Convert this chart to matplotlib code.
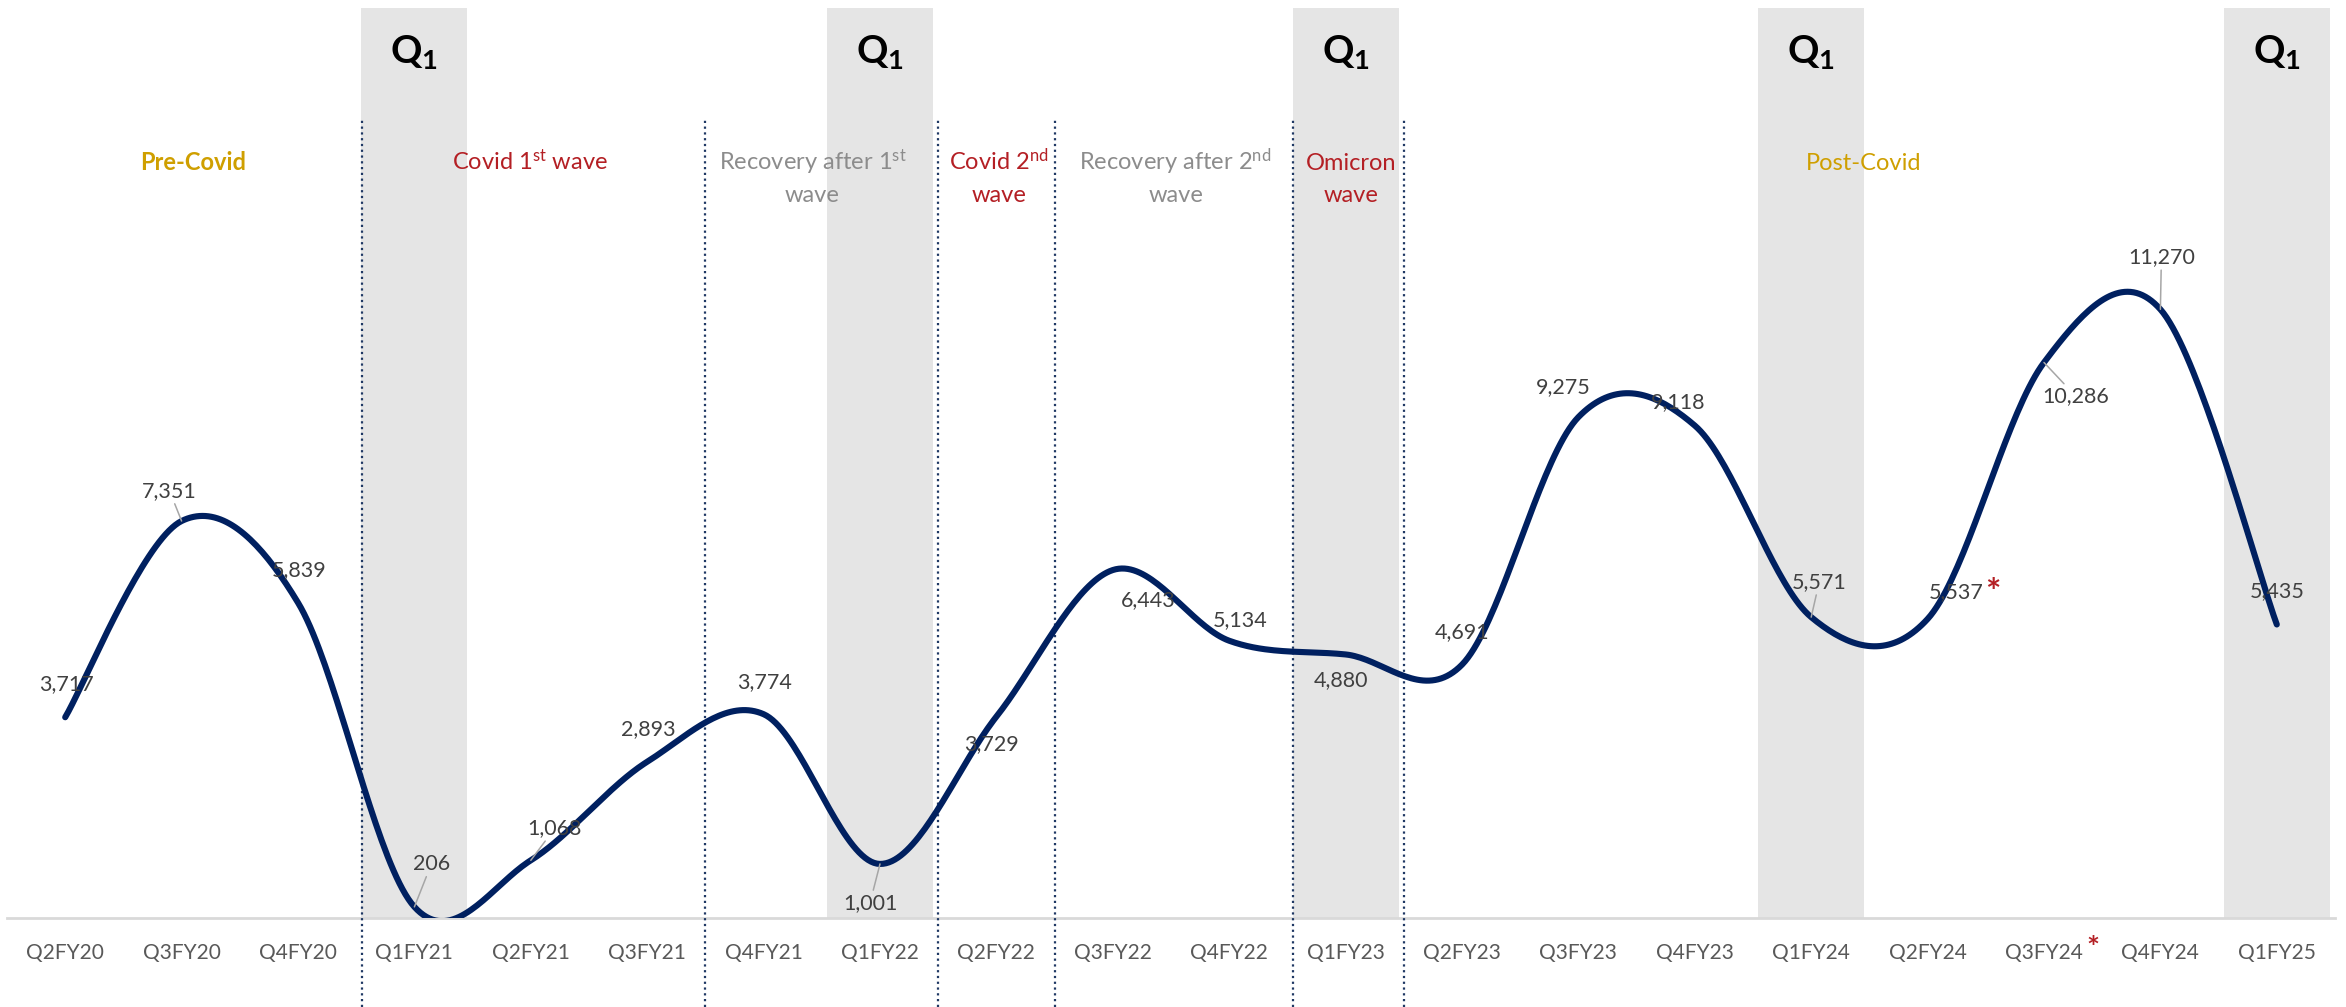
import numpy as np
import matplotlib
matplotlib.use('Agg')
import matplotlib.pyplot as plt
import matplotlib.transforms as mtrans

plt.rcParams.update({'font.family': ['Lato', 'DejaVu Sans'],
                     'mathtext.fontset': 'custom',
                     'mathtext.rm': 'Lato', 'mathtext.bf': 'Lato:bold',
                     'mathtext.it': 'Lato:italic'})

# ---- data ----
quarters = ['Q2FY20', 'Q3FY20', 'Q4FY20', 'Q1FY21', 'Q2FY21', 'Q3FY21', 'Q4FY21',
            'Q1FY22', 'Q2FY22', 'Q3FY22', 'Q4FY22', 'Q1FY23', 'Q2FY23', 'Q3FY23',
            'Q4FY23', 'Q1FY24', 'Q2FY24', 'Q3FY24', 'Q4FY24', 'Q1FY25']
values = [3717, 7351, 5839, 206, 1068, 2893, 3774, 1001, 3729, 6443,
          5134, 4880, 4691, 9275, 9118, 5571, 5537, 10286, 11270, 5435]
starred_tick = ['Q3FY24']      # asterisk on the category label
starred_value = ['Q2FY24']     # asterisk on the data label

phase_names = ['Pre-Covid', 'Covid 1$^{\\mathrm{st}}$ wave',
               'Recovery after 1$^{\\mathrm{st}}$\nwave', 'Covid 2$^{\\mathrm{nd}}$\nwave',
               'Recovery after 2$^{\\mathrm{nd}}$\nwave', 'Omicron\nwave', 'Post-Covid']
phase_kind = ['pre', 'wave', 'rec', 'wave', 'rec', 'wave', 'post']
phase_x = [1.10, 3.99, 6.42, 8.02, 9.54, 11.05, 15.45]
phase_breaks = [2.55, 5.5, 7.5, 8.5, 10.55, 11.5]

# label offsets in pixels (dx right, dy down) and which get leader lines
lab_off = [(1, -33), (-12, -30), (1, -33), (17, -43), (24, -32), (1, -33), (1, -32),
           (-10, 39), (-5, 27), (35, 30), (11, -21), (-5, 26), (0, -33), (-15, -30),
           (-17, -23), (8, -35), (29, -27), (32, 34), (1, -52), (0, -33)]
leaders = [1, 3, 4, 7, 15, 17, 18]

NAVY = '#002060'
RED = '#B41F24'
GOLD = '#CF9F00'
GREY_T = '#8C8C8C'


def smooth(xs, ys, n=40):
    # Bezier smoothing like Excel's "smoothed line"
    P = np.column_stack([xs, ys]).astype(float)
    out = []
    for i in range(len(P) - 1):
        p0 = P[max(i - 1, 0)]; p1 = P[i]; p2 = P[i + 1]; p3 = P[min(i + 2, len(P) - 1)]
        c1 = p1 + (p2 - p0) / 6
        c2 = p2 - (p3 - p1) / 6
        t = np.linspace(0, 1, n)[:, None]
        seg = (1 - t)**3 * p1 + 3 * (1 - t)**2 * t * c1 + 3 * (1 - t) * t**2 * c2 + t**3 * p2
        out.append(seg if i == 0 else seg[1:])
    return np.vstack(out)


W, H = 2346, 1007
fig = plt.figure(figsize=(W / 100, H / 100), dpi=100)
ax = fig.add_axes([7 / W, (H - 918) / H, (2335 - 7) / W, (918 - 8) / H])
x = np.arange(len(quarters))
ax.set_xlim(-0.5, len(quarters) - 0.5)
ax.set_ylim(0, 16850)

# Q1 bands
for i, q in enumerate(quarters):
    if q.startswith('Q1'):
        ax.axvspan(i - 0.455, i + 0.455, color='#E5E5E5', zorder=0, lw=0)
        ax.text(i, 15830, 'Q$_\\mathbf{1}$', ha='center', va='baseline',
                fontsize=28, fontweight='bold', color='black')

# phase separators (run below the axis to the bottom of the figure)
tr = mtrans.blended_transform_factory(ax.transData, fig.transFigure)
ax.vlines(phase_breaks, 0, (H - 118) / H, transform=tr, colors='#1F3864',
          linestyles=(0, (1, 1.6)), lw=1.6, clip_on=False, zorder=3)

kind_style = {'pre': (GOLD, 'bold'), 'post': (GOLD, 'normal'),
              'wave': (RED, 'normal'), 'rec': (GREY_T, 'normal')}
for name, k, px in zip(phase_names, phase_kind, phase_x):
    c, fw = kind_style[k]
    # one text per line so every first line sits on the same baseline
    for j, line in enumerate(name.split('\n')):
        ax.text(px, 13850 - j * 590, line, ha='center', va='baseline', fontsize=17,
                color=c, fontweight=fw)

# line
curve = smooth(x, values)
ax.plot(curve[:, 0], curve[:, 1], color=NAVY, lw=4.4, solid_capstyle='round', zorder=4)

# data labels
for i, v in enumerate(values):
    dx, dy = lab_off[i]
    ap = dict(arrowstyle='-', color='#A6A6A6', lw=1.1, shrinkA=0, shrinkB=0) if i in leaders else None
    ax.annotate(f'{v:,}', xy=(i, v), xytext=(dx * 0.72, -dy * 0.72), textcoords='offset points',
                ha='center', va='center', fontsize=15.5, color='#404040', arrowprops=ap, zorder=5)
    if quarters[i] in starred_value:
        ax.annotate('*', xy=(i, v), xytext=((dx + 36) * 0.72, -(dy + 2) * 0.72),
                    textcoords='offset points', ha='center', va='center',
                    fontsize=26, color=RED, fontweight='bold', zorder=5)

# axes styling
for s in ['top', 'right', 'left']:
    ax.spines[s].set_visible(False)
ax.spines['bottom'].set_color('#D9D9D9')
ax.spines['bottom'].set_linewidth(2)
ax.set_yticks([])
ax.set_xticks(x)
ax.set_xticklabels(quarters, fontsize=15, color='#595959')
ax.tick_params(axis='x', length=0, pad=18)
for i, q in enumerate(quarters):
    if q in starred_tick:
        ax.annotate('*', xy=(i, 0), xytext=(35, -22), textcoords='offset points',
                    ha='center', va='center', fontsize=22, color=RED, fontweight='bold',
                    annotation_clip=False)

fig.savefig('out.png', dpi=100)
